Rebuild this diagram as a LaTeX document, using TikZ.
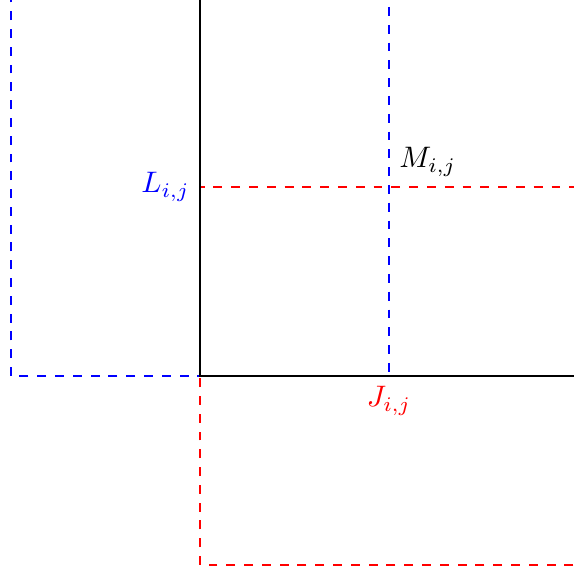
\documentclass[tikz,border=0pt]{standalone}
\usepackage{amsmath, amssymb}
\usepackage{tikz}
\usetikzlibrary{positioning}

\begin{document}
\begin{tikzpicture}[
  x=2.24cm, y=2.24cm,
  blueBox/.style={draw=blue, dashed},
  redBox/.style={draw=red, dashed},
  axisLine/.style={draw=black},
]
\useasboundingbox (-1.058,-1.053) rectangle (1.974,1.989);
\coordinate (o)  at (0,0);
\coordinate (lb) at (-1,0);
\coordinate (rt) at (1,2);
\coordinate (db) at (0,-1);
\coordinate (dt) at (2,1);
\coordinate (xe) at (2,0);
\coordinate (ye) at (0,2);
\coordinate (m)  at (1,1);
\coordinate (l)  at (0,1);
\coordinate (j)  at (1,0);

\draw[blueBox] (lb) rectangle (rt);
\draw[redBox] (db) rectangle (dt);
\draw[axisLine] (ye) -- (o) -- (xe);

\node[blue, left]        (lij) at (l) {$L_{i,j}$};
\node[above right]       (mij) at (m) {$M_{i,j}$};
\node[red, below]        (jij) at (j) {$J_{i,j}$};
\end{tikzpicture}
\end{document}
